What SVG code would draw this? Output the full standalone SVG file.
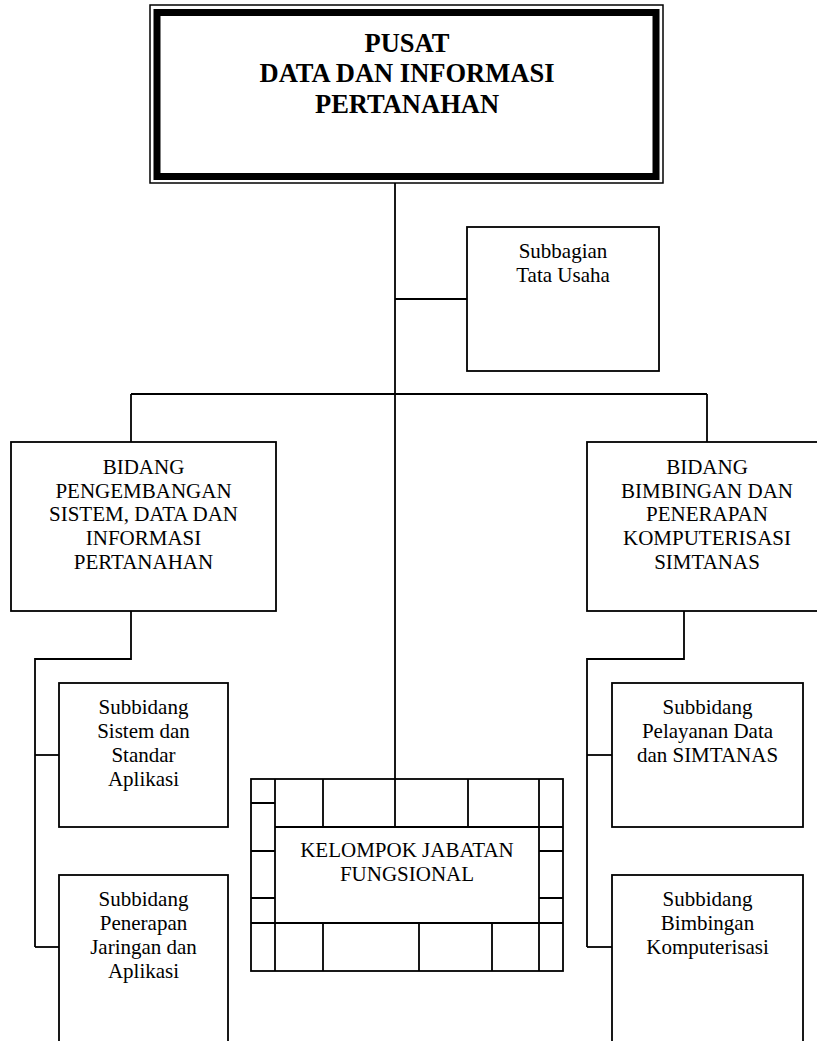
<svg xmlns="http://www.w3.org/2000/svg" width="817" height="1041" viewBox="0 0 817 1041">
<style>
.box{fill:#fff;stroke:#000;stroke-width:1.8}
.ln{fill:none;stroke:#000;stroke-width:1.8}
text{font-family:'Liberation Serif','DejaVu Serif',serif;fill:#000;text-anchor:middle}
.t{font-size:21px}
.h{font-size:26.5px;font-weight:bold}
</style>
<rect width="817" height="1041" fill="#fff"/>
<g id="connectors" class="ln">
<path d="M395 183V779"/>
<path d="M395 299H467"/>
<path d="M131 394H707"/>
<path d="M131 394V442"/>
<path d="M707 394V442"/>
<path d="M131 611V659H35V947"/>
<path d="M35 755H59"/>
<path d="M35 947H59"/>
<path d="M684 611V659H587V947"/>
<path d="M587 755H612"/>
<path d="M587 947H612"/>
</g>
<g id="pusat">
<rect x="150" y="5" width="513" height="178" fill="#fff" stroke="#000" stroke-width="1.5"/>
<rect x="157" y="12.5" width="499" height="164" fill="none" stroke="#000" stroke-width="7"/>
<text class="h" x="407" y="52" font-family="Liberation Serif, serif">PUSAT</text>
<text class="h" x="407" y="82" font-family="Liberation Serif, serif">DATA DAN INFORMASI</text>
<text class="h" x="407" y="112.5" font-family="Liberation Serif, serif">PERTANAHAN</text>
</g>
<g id="subbagian">
<rect class="box" x="467" y="227" width="192" height="144"/>
<text class="t" x="563" y="257.5">Subbagian</text>
<text class="t" x="563" y="282">Tata Usaha</text>
</g>
<g id="bidang-kiri">
<rect class="box" x="11" y="442" width="265" height="169"/>
<text class="t" x="143.5" y="474">BIDANG</text>
<text class="t" x="143.5" y="497.5">PENGEMBANGAN</text>
<text class="t" x="143.5" y="521">SISTEM, DATA DAN</text>
<text class="t" x="143.5" y="545">INFORMASI</text>
<text class="t" x="143.5" y="569">PERTANAHAN</text>
</g>
<g id="bidang-kanan">
<rect class="box" x="587" y="442" width="240" height="169"/>
<text class="t" x="707" y="474">BIDANG</text>
<text class="t" x="707" y="497.5">BIMBINGAN DAN</text>
<text class="t" x="707" y="521">PENERAPAN</text>
<text class="t" x="707" y="545">KOMPUTERISASI</text>
<text class="t" x="707" y="569">SIMTANAS</text>
</g>
<g id="subbidang-sistem">
<rect class="box" x="59" y="683" width="169" height="144"/>
<text class="t" x="143.5" y="713.5">Subbidang</text>
<text class="t" x="143.5" y="738">Sistem dan</text>
<text class="t" x="143.5" y="762">Standar</text>
<text class="t" x="143.5" y="786">Aplikasi</text>
</g>
<g id="subbidang-penerapan">
<rect class="box" x="59" y="875" width="169" height="190"/>
<text class="t" x="143.5" y="906">Subbidang</text>
<text class="t" x="143.5" y="930">Penerapan</text>
<text class="t" x="143.5" y="954">Jaringan dan</text>
<text class="t" x="143.5" y="978">Aplikasi</text>
</g>
<g id="subbidang-pelayanan">
<rect class="box" x="612" y="683" width="191" height="144"/>
<text class="t" x="707.5" y="713.5">Subbidang</text>
<text class="t" x="707.5" y="738">Pelayanan Data</text>
<text class="t" x="707.5" y="762">dan SIMTANAS</text>
</g>
<g id="subbidang-bimbingan">
<rect class="box" x="612" y="875" width="191" height="190"/>
<text class="t" x="707.5" y="906">Subbidang</text>
<text class="t" x="707.5" y="930">Bimbingan</text>
<text class="t" x="707.5" y="954">Komputerisasi</text>
</g>
<g id="kelompok-jabatan-fungsional">
<rect class="box" x="251" y="779" width="312" height="192"/>
<path class="ln" d="M275 779V971M539 779V971M275 827H563M251 923H563M323 779V827M395 779V827M468 779V827M323 923V971M419 923V971M492 923V971M251 803H275M251 851H275M251 898H275M539 851H563M539 898H563"/>
<text class="t" x="407" y="857">KELOMPOK JABATAN</text>
<text class="t" x="407" y="881">FUNGSIONAL</text>
</g>
</svg>
